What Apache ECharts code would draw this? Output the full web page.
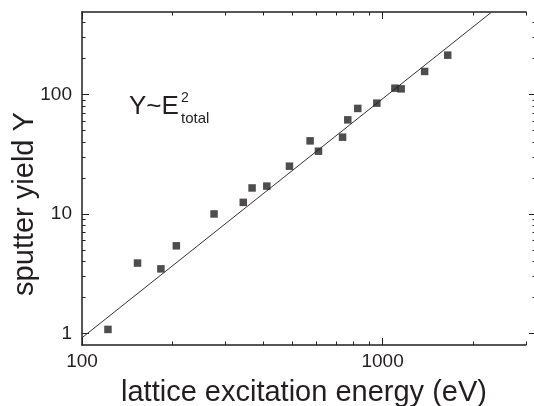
<!DOCTYPE html>
<html>
<head>
<meta charset="utf-8">
<script src="https://cdn.jsdelivr.net/npm/echarts@6/dist/echarts.min.js"></script>
<style>
  html, body { margin: 0; padding: 0; background: #fff; }
  #chart { width: 534px; height: 406px; }
</style>
</head>
<body>
<div id="chart"></div>
<script>
// measured points (lattice excitation energy in eV, sputter yield)
const energy = [122, 153, 183, 206, 275, 344, 368, 412, 490, 574, 612, 736, 766, 827, 957, 1099, 1153, 1380, 1647];
const yieldY = [1.08, 3.88, 3.47, 5.41, 10.0, 12.5, 16.5, 17.1, 25.1, 40.9, 33.5, 43.9, 61.3, 76.4, 84.6, 112.9, 111.4, 155.8, 213.3];

// Y ~ E^2 guide line, end points
const fitE = [100, 2300];
const fitY = [0.92, 487];

const xMajor = [100, 1000];
const xMinor = [200, 300, 400, 500, 600, 700, 800, 900, 2000, 3000];
const yMajor = [1, 10, 100];
const yMinor = [2, 3, 4, 5, 6, 7, 8, 9, 20, 30, 40, 50, 60, 70, 80, 90, 200, 300, 400];

const ink = "#231f20";
const font = "Liberation Sans, Arial, sans-serif";

const chart = echarts.init(document.getElementById("chart"), null, { renderer: "canvas" });

function logX(position, ticks, len, extra) {
  return Object.assign({
    type: "log",
    position,
    min: 100,
    max: 3000,
    splitLine: { show: false },
    axisLine: { show: false },
    axisTick: { show: true, inside: true, length: len, customValues: ticks, lineStyle: { color: ink, width: 1 } },
    axisLabel: { show: false },
  }, extra || {});
}

function logY(position, ticks, len, extra) {
  return Object.assign({
    type: "log",
    position,
    min: 0.8,
    max: 490,
    splitLine: { show: false },
    axisLine: { show: false },
    axisTick: { show: true, inside: true, length: len, customValues: ticks, lineStyle: { color: ink, width: 1 } },
    axisLabel: { show: false },
  }, extra || {});
}

const option = {
  animation: false,
  backgroundColor: "#fff",
  grid: { left: 82, right: 8, top: 12, bottom: 61, containLabel: false, outerBoundsMode: "none" },
  xAxis: [
    logX("bottom", xMajor, 7, {
      axisLine: { show: true, lineStyle: { color: ink, width: 1.5 } },
      axisLabel: {
        show: true,
        customValues: xMajor,
        formatter: (v) => String(v),
        color: ink,
        fontSize: 19,
        fontFamily: font,
        margin: 7,
      },
      name: "lattice excitation energy (eV)",
      nameLocation: "middle",
      nameGap: 33,
      nameTextStyle: { color: ink, fontSize: 29, fontFamily: font },
    }),
    logX("bottom", xMinor, 3.5),
    logX("top", xMajor, 7, { axisLine: { show: true, lineStyle: { color: ink, width: 1.5 } } }),
    logX("top", xMinor, 3.5),
  ],
  yAxis: [
    logY("left", yMajor, 7, {
      axisLine: { show: true, lineStyle: { color: ink, width: 1.5 } },
      axisLabel: {
        show: true,
        customValues: yMajor,
        formatter: (v) => String(v),
        color: ink,
        fontSize: 19,
        fontFamily: font,
        margin: 10,
      },
    }),
    logY("left", yMinor, 3.5),
    logY("right", yMajor, 7, { offset: 10 }),
    logY("right", yMinor, 3.5, { offset: 10 }),
  ],
  series: [
    {
      type: "line",
      data: fitE.map((e, i) => [e, fitY[i]]),
      showSymbol: false,
      clip: true,
      lineStyle: { color: "#333", width: 1 },
      z: 2,
    },
    {
      type: "scatter",
      data: energy.map((e, i) => [e, yieldY[i]]),
      symbol: "rect",
      symbolSize: 7.5,
      itemStyle: { color: ink },
      z: 3,
    },
  ],
  graphic: [
    {
      type: "text",
      rotation: Math.PI / 2,
      x: 25,
      y: 204,
      style: { text: "sputter yield Y", fill: ink, font: "29px " + font, align: "center", verticalAlign: "middle" },
    },
    {
      type: "text",
      x: 129,
      y: 107,
      style: { text: "Y~E", fill: ink, font: "26px " + font, align: "left", verticalAlign: "middle" },
    },
    {
      type: "text",
      x: 181,
      y: 98,
      style: { text: "2", fill: ink, font: "14px " + font, align: "left", verticalAlign: "middle" },
    },
    {
      type: "text",
      x: 181,
      y: 118.5,
      style: { text: "total", fill: ink, font: "15px " + font, align: "left", verticalAlign: "middle" },
    },
  ],
};

chart.setOption(option);
</script>
</body>
</html>
